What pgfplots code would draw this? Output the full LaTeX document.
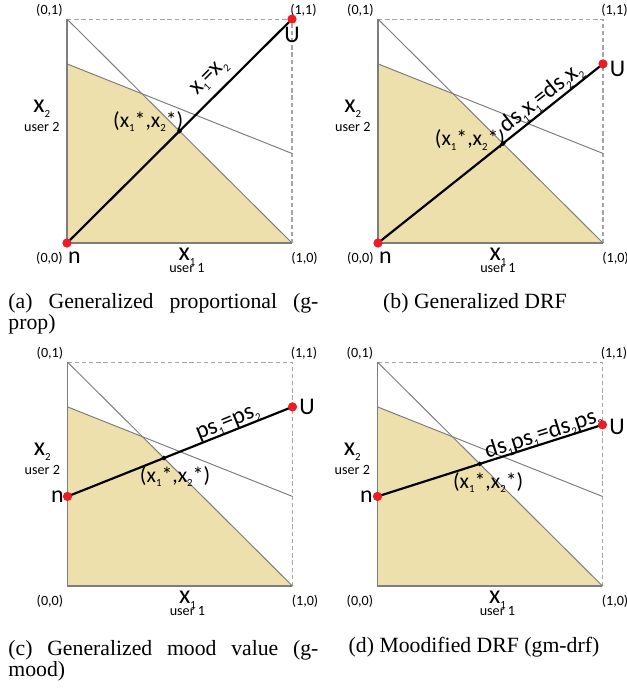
\documentclass[border=0pt]{standalone}
\usepackage{fontspec}
\setmainfont{Liberation Serif}
\newfontfamily\lbl{Carlito}
\usepackage{pgfplots}
\pgfplotsset{compat=1.18}

\definecolor{shade}{RGB}{238,224,172}
\definecolor{dotred}{RGB}{237,28,36}
\definecolor{edgegray}{RGB}{125,125,125}
\definecolor{dashgray}{RGB}{165,165,165}

% tiny lowered index, as in the drawing
\newcommand{\sub}[1]{\raisebox{-0.4ex}{\fontsize{5}{5}\selectfont #1}}
\newcommand{\st}{*}

\pgfplotsset{
  panel/.style={scale only axis, width=103.5pt, height=103pt,
    xmin=0, xmax=1, ymin=0, ymax=1, axis lines=none, clip=false,
    anchor=south west},
}
\tikzset{
  lblsmall/.style={font=\lbl\fontsize{6.5}{7}\selectfont, inner sep=0pt},
  lblbig/.style={font=\lbl\fontsize{11}{12}\selectfont, inner sep=0pt},
  lbleq/.style={font=\lbl\fontsize{11}{12}\selectfont, inner sep=0pt},
  lblpt/.style={font=\lbl\fontsize{10}{11}\selectfont, inner sep=0pt},
}

% common part of each panel: feasible region, frame, the two constraints
\newcommand{\panelbase}{%
  \addplot[fill=shade, draw=none] coordinates {(0,0.8) (0.3333,0.6667) (1,0)} \closedcycle;
  \addplot[dashgray, line width=0.5pt, dash pattern=on 2pt off 1.3pt] coordinates {(0,1) (1,1) (1,0)};
  \addplot[edgegray, line width=0.6pt] coordinates {(0,1) (0,0) (1,0)};
  \addplot[edgegray, line width=0.45pt] coordinates {(0,1) (1,0)};
  \addplot[edgegray, line width=0.45pt] coordinates {(0,0.8) (1,0.4)};
  \node[lblsmall, anchor=south east, xshift=-1.8pt, yshift=1.2pt] at (axis cs:0,1) {(0,1)};
  \node[lblsmall, anchor=south west, xshift=-1pt, yshift=1.2pt] at (axis cs:1,1) {(1,1)};
  \node[lblsmall, anchor=north east, xshift=-1.8pt, yshift=-4pt] at (axis cs:0,0) {(0,0)};
  \node[lblsmall, anchor=north west, xshift=-0.5pt, yshift=-4pt] at (axis cs:1,0) {(1,0)};
  \node[font=\lbl\fontsize{12}{12}\selectfont, inner sep=0pt] at (axis cs:-0.112,0.60) {x\sub{2}};
  \node[lblsmall] at (axis cs:-0.112,0.52) {user 2};
  \node[font=\lbl\fontsize{12}{12}\selectfont, inner sep=0pt] at (axis cs:0.533,-0.06) {x\sub{1}};
  \node[lblsmall] at (axis cs:0.533,-0.11) {user 1};
}

\begin{document}
\begin{tikzpicture}
\useasboundingbox (0,0) rectangle (288.42pt,-316.48pt);

% (a) generalized proportional
\begin{axis}[panel, at={(30.82pt,-111.78pt)}]
\panelbase
\addplot[black, line width=1pt] coordinates {(0,0) (1,1)};
\addplot[only marks, mark=*, mark size=0.9pt, black] coordinates {(0.5,0.5)};
\addplot[only marks, mark=*, mark size=1.9pt, dotred] coordinates {(0,0) (1,1)};
\node[lblbig, anchor=north west, xshift=0.3pt, yshift=-3.8pt] at (axis cs:0,0) {n};
\node[lblbig, anchor=north, yshift=-3.5pt] at (axis cs:1,1) {U};
\node[lbleq, rotate=45] at (axis cs:0.636,0.737) {x\sub{1}=x\sub{2}};
\node[lblpt] at (axis cs:0.361,0.541) {(x\sub{1}\st,x\sub{2}\st)};
\end{axis}

% (b) generalized DRF
\begin{axis}[panel, at={(173.88pt,-111.78pt)}]
\panelbase
\addplot[black, line width=1pt] coordinates {(0,0) (1,0.8)};
\addplot[only marks, mark=*, mark size=0.9pt, black] coordinates {(0.5556,0.4444)};
\addplot[only marks, mark=*, mark size=1.9pt, dotred] coordinates {(0,0) (1,0.8)};
\node[lblbig, anchor=north west, xshift=0.3pt, yshift=-3.8pt] at (axis cs:0,0) {n};
\node[lblbig, anchor=west, xshift=3pt, yshift=-2.5pt] at (axis cs:1,0.8) {U};
\node[lbleq, rotate=38.4] at (axis cs:0.727,0.646) {ds\sub{1}x\sub{1}=ds\sub{2}x\sub{2}};
\node[lblpt] at (axis cs:0.409,0.46) {(x\sub{1}\st,x\sub{2}\st)};
\end{axis}

% (c) generalized mood value
\begin{axis}[panel, at={(31.05pt,-269.56pt)}]
\panelbase
\addplot[black, line width=1pt] coordinates {(0,0.4) (1,0.8)};
\addplot[only marks, mark=*, mark size=0.9pt, black] coordinates {(0.4286,0.5714)};
\addplot[only marks, mark=*, mark size=1.9pt, dotred] coordinates {(0,0.4) (1,0.8)};
\node[lblbig, anchor=east, xshift=-1.5pt] at (axis cs:0,0.4) {n};
\node[lblbig, anchor=west, xshift=3pt] at (axis cs:1,0.8) {U};
\node[lbleq, rotate=22] at (axis cs:0.715,0.723) {ps\sub{1}=ps\sub{2}};
\node[lblpt] at (axis cs:0.478,0.487) {(x\sub{1}\st,x\sub{2}\st)};
\end{axis}

% (d) modified DRF
\begin{axis}[panel, at={(173.65pt,-269.56pt)}]
\panelbase
\addplot[black, line width=1pt] coordinates {(0,0.4) (1,0.72)};
\addplot[only marks, mark=*, mark size=0.9pt, black] coordinates {(0.4545,0.5455)};
\addplot[only marks, mark=*, mark size=1.9pt, dotred] coordinates {(0,0.4) (1,0.72)};
\node[lblbig, anchor=east, xshift=-2pt] at (axis cs:0,0.4) {n};
\node[lblbig, anchor=west, xshift=3pt, yshift=-1pt] at (axis cs:1,0.72) {U};
\node[lbleq, rotate=17.7] at (axis cs:0.737,0.678) {ds\sub{1}ps\sub{1}=ds\sub{2}ps\sub{2}};
\node[lblpt] at (axis cs:0.492,0.461) {(x\sub{1}\st,x\sub{2}\st)};
\end{axis}

% sub-captions
\node[anchor=base west, inner sep=0pt] at (3.68pt,-141.68pt)
  {\parbox[t]{142.6pt}{\fontsize{10}{10.1}\selectfont\tolerance=10000
   (a) Generalized proportional (g-prop)}};
\node[anchor=base, inner sep=0pt, font=\fontsize{10}{10.1}\selectfont] at (218.5pt,-141.68pt)
  {(b) Generalized DRF};
\node[anchor=base west, inner sep=0pt] at (3.68pt,-301.3pt)
  {\parbox[t]{142.6pt}{\fontsize{10}{10.1}\selectfont\tolerance=10000
   (c) Generalized mood value (g-mood)}};
\node[anchor=base, inner sep=0pt, font=\fontsize{10}{10.1}\selectfont] at (218.04pt,-299.92pt)
  {(d) Moodified DRF (gm-drf)};
\end{tikzpicture}
\end{document}
